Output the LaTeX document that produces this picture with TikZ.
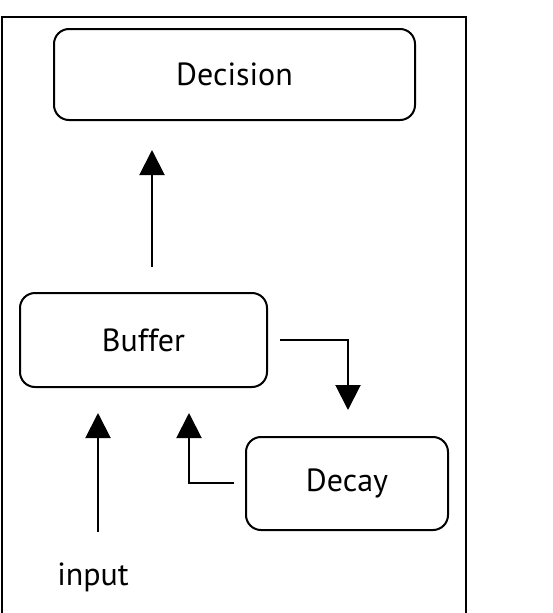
\documentclass[tikz,border=0pt]{standalone}
\usepackage{fontspec}
\setmainfont{PT Sans}
\usetikzlibrary{arrows.meta}

\tikzset{
  block/.style={draw, line width=2pt, rounded corners=15pt, align=center,
    inner sep=0pt, font=\fontsize{32}{38}\selectfont},
  flow/.style={line width=2pt, -{Triangle[width=25pt,length=25pt]}}
}

\begin{document}
\begin{tikzpicture}[x=1pt,y=-1pt]
    \useasboundingbox (0,0) rectangle (553,613);
    \draw[line width=2pt] (2,613) |- (466,17) -- (466,613);

    \node[block, minimum width=361pt, minimum height=91pt] (decision) at (234.5,74.5)
    {Decision};
    \node[block, minimum width=247pt, minimum height=94pt] (buffer) at (143.5,340)
    {Buffer};
    \node[block, minimum width=202pt, minimum height=93pt] (decay) at (347,483.5)
    {Decay};
    \node[font=\fontsize{32}{38}\selectfont] (input) at (93,577) {input};

    \coordinate (bufout) at (152,267); \coordinate (decin) at (152,150);
    \coordinate (bufright) at (280,340); \coordinate (decayin) at (348,410);
    \coordinate (decayleft) at (234,483); \coordinate (bufback) at (189,413);
    \coordinate (inputup) at (98,532); \coordinate (bufin) at (98,413);

    \draw[flow] (bufout) -- (decin);
    \draw[flow] (bufright) -| (decayin);
    \draw[flow] (decayleft) -| (bufback);
    \draw[flow] (inputup) -- (bufin);
\end{tikzpicture}
\end{document}
